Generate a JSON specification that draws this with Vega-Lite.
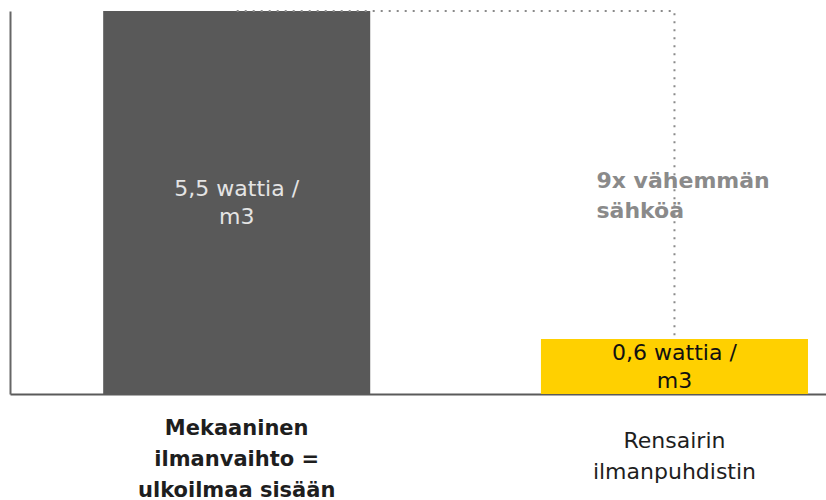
{
  "$schema": "https://vega.github.io/schema/vega-lite/v6.json",
  "width": 816,
  "height": 383,
  "autosize": "none",
  "padding": {"left": 10, "top": 11, "right": 0, "bottom": 106},
  "background": "white",
  "config": {"view": {"stroke": null}, "font": "DejaVu Sans"},
  "datasets": {
    "bars": [
      {"k": "Mekaaninen|ilmanvaihto =|ulkoilmaa sisään", "value": 5.5, "label": "5,5 wattia /\nm3"},
      {"k": "Rensairin|ilmanpuhdistin", "value": 0.6, "label": "0,6 wattia /\nm3"}
    ],
    "guide": [
      {"k": "Mekaaninen|ilmanvaihto =|ulkoilmaa sisään", "v": 4.18, "o": 1},
      {"k": "Rensairin|ilmanpuhdistin", "v": 4.18, "o": 2},
      {"k": "Rensairin|ilmanpuhdistin", "v": 0.6, "o": 3}
    ],
    "note": [
      {"k": "Rensairin|ilmanpuhdistin", "v": 2.33, "text": "9x vähemmän\nsähköä"}
    ]
  },
  "encoding": {
    "x": {
      "field": "k",
      "type": "nominal",
      "sort": null,
      "scale": {"paddingInner": 0.39, "paddingOuter": 0.127, "align": 0.838},
      "axis": {
        "title": null,
        "ticks": false,
        "labelAngle": 0,
        "labelExpr": "split(datum.label, '|')",
        "labelFont": "DejaVu Sans",
        "labelFontSize": {"condition": {"test": "indexof(datum.value, 'Mekaaninen') == 0", "value": 21}, "value": 22},
        "labelColor": "#1e1e1e",
        "labelLineHeight": 31,
        "labelBaseline": "middle",
        "labelPadding": {"condition": {"test": "indexof(datum.value, 'Mekaaninen') == 0", "value": 34}, "value": 46},
        "labelLimit": 0,
        "labelFontWeight": {"condition": {"test": "indexof(datum.value, 'Mekaaninen') == 0", "value": "bold"}, "value": "normal"},
        "domainColor": "#5a5a5a",
        "domainWidth": 2
      }
    }
  },
  "layer": [
    {
      "data": {"name": "bars"},
      "mark": {"type": "bar", "clip": true},
      "encoding": {
        "y": {
          "field": "value",
          "type": "quantitative",
          "scale": {"domain": [0, 4.18], "nice": false},
          "axis": {"title": null, "ticks": false, "labels": false, "grid": false, "domainColor": "#666", "domainWidth": 2}
        },
        "color": {
          "field": "k",
          "type": "nominal",
          "scale": {"domain": ["Mekaaninen|ilmanvaihto =|ulkoilmaa sisään", "Rensairin|ilmanpuhdistin"], "range": ["#595959", "#ffd000"]},
          "legend": null
        }
      }
    },
    {
      "data": {"name": "guide"},
      "mark": {"type": "line", "strokeDash": [2, 6], "color": "#8a8a8a", "strokeWidth": 2},
      "encoding": {
        "y": {"field": "v", "type": "quantitative"},
        "order": {"field": "o", "type": "quantitative"}
      }
    },
    {
      "data": {"name": "bars"},
      "transform": [{"calculate": "min(datum.value, 4.18) / 2", "as": "mid"}],
      "mark": {"type": "text", "fontSize": 22, "lineBreak": "\n", "lineHeight": 28, "baseline": "middle", "align": "center", "dy": -14},
      "encoding": {
        "y": {"field": "mid", "type": "quantitative"},
        "text": {"field": "label"},
        "color": {"condition": {"test": "datum.value > 1", "value": "#e4e4e4"}, "value": "#111111"}
      }
    },
    {
      "data": {"name": "note"},
      "mark": {"type": "text", "fontSize": 22, "fontWeight": "bold", "lineBreak": "\n", "lineHeight": 30, "baseline": "middle", "align": "left", "dx": -78, "color": "#8a8a8a"},
      "encoding": {
        "y": {"field": "v", "type": "quantitative"},
        "text": {"field": "text"}
      }
    }
  ]
}
